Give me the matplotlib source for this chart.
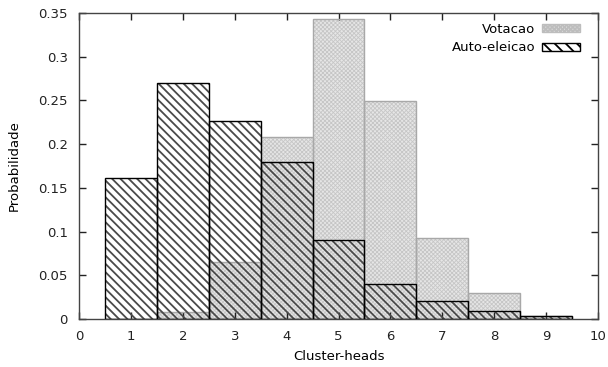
import numpy as np
import matplotlib
matplotlib.use("Agg")
import matplotlib.pyplot as plt
from matplotlib.patches import Patch

# data
clusters = [1, 2, 3, 4, 5, 6, 7, 8, 9]
votacao = [0.0, 0.008, 0.065, 0.208, 0.343, 0.249, 0.093, 0.030, 0.003]
auto_eleicao = [0.161, 0.270, 0.227, 0.180, 0.090, 0.040, 0.020, 0.009, 0.003]

plt.rcParams['font.family'] = 'DejaVu Sans'
plt.rcParams['font.size'] = 9.5

fig = plt.figure(figsize=(6.08, 3.67), dpi=100)
ax = fig.add_axes([0.130, 0.131, 0.8536, 0.8335])

gray_face = '#e6e6e6'
gray_hatch = '#c6c6c6'
gray_edge = '#a8a8a8'
dark_hatch = '#4a4a4a'

# votacao: light gray fill, fine crosshatch, gray outline
plt.rcParams['hatch.linewidth'] = 0.6
ax.bar(clusters, votacao, width=1.0, color=gray_face, edgecolor='none', zorder=1)
ax.bar(clusters, votacao, width=1.0, fill=False, hatch='xxxxxxxx',
       edgecolor=gray_hatch, linewidth=0, zorder=1.5)
ax.bar(clusters, votacao, width=1.0, fill=False, edgecolor=gray_edge,
       linewidth=1.0, zorder=2)
vot_patch = Patch(facecolor=gray_face, edgecolor='#bdbdbd', hatch='xxxxxxxx', label='Votacao')

# auto-eleicao: dark diagonal hatch on top
plt.rcParams['hatch.linewidth'] = 1.3
ax.bar(clusters, auto_eleicao, width=1.0, fill=False, hatch='\\\\\\\\',
       edgecolor=dark_hatch, linewidth=0, zorder=3)
ax.bar(clusters, auto_eleicao, width=1.0, fill=False, edgecolor='black',
       linewidth=1.0, zorder=4)
auto_patch = Patch(facecolor='white', edgecolor='black', hatch='\\\\\\', label='Auto-eleicao')

ax.set_xlim(0, 10)
ax.set_ylim(0, 0.35)
ax.set_xticks(range(0, 11))
yt = [0, 0.05, 0.1, 0.15, 0.2, 0.25, 0.3, 0.35]
ax.set_yticks(yt)
ax.set_yticklabels(['0', '0.05', '0.1', '0.15', '0.2', '0.25', '0.3', '0.35'])
ax.tick_params(direction='in', top=True, right=True, length=5, width=1,
               labelsize=9.5, colors='#222222')
ax.tick_params(axis='x', pad=8)
ax.tick_params(axis='y', pad=8)
for s in ax.spines.values():
    s.set_linewidth(1.0)
    s.set_color('#444444')

ax.set_xlabel('Cluster-heads', fontsize=9.5, labelpad=5)
ax.set_ylabel('Probabilidade', fontsize=9.5, labelpad=13)

leg = ax.legend(handles=[vot_patch, auto_patch], loc='upper right', frameon=False,
                markerfirst=False, fontsize=9.5, handlelength=2.9, handleheight=0.55,
                handletextpad=0.5, labelspacing=0.4, borderaxespad=0.35,
                borderpad=0.4, bbox_to_anchor=(0.985, 1.0))

fig.savefig('out.png', dpi=100)
